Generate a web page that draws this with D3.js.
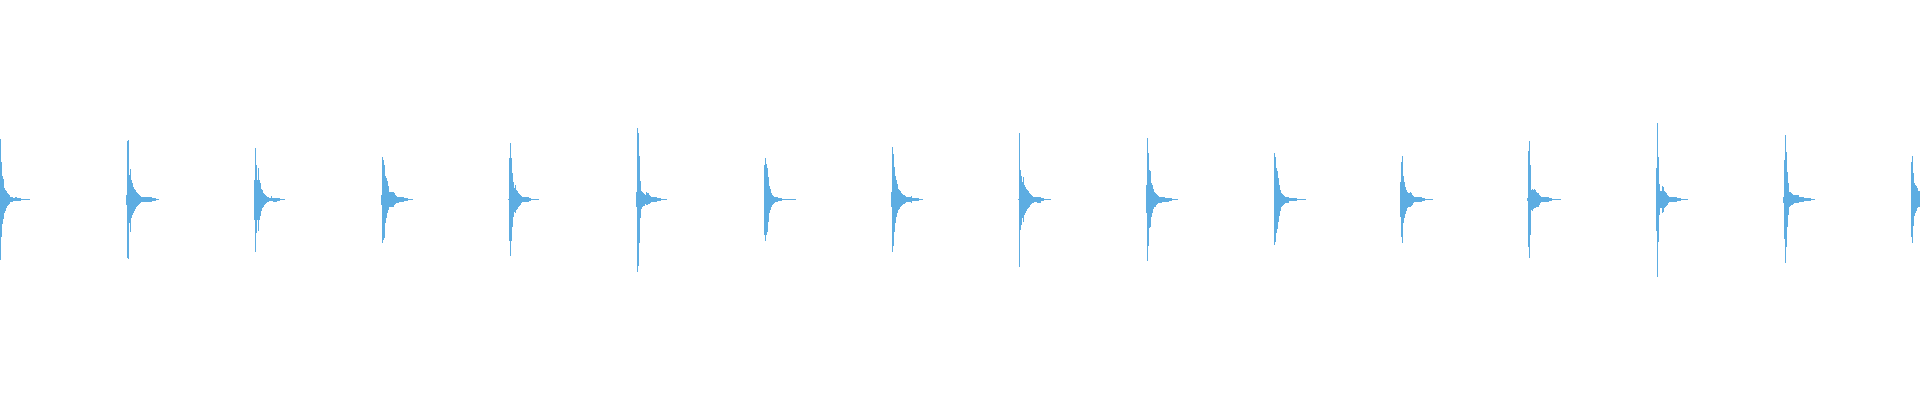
<!DOCTYPE html>
<html>
<head>
<meta charset="utf-8">
<script src="https://cdn.jsdelivr.net/npm/d3@7"></script>
<style>
  html, body { margin: 0; padding: 0; background: #ffffff; overflow: hidden; }
  svg { display: block; }
</style>
</head>
<body>
<div id="chart"></div>
<script>
// Waveform peaks: one min/max pair per display bin, grouped by beat (transient).
const totalBins = 1920;
const beatStarts = [0, 126, 254, 381, 508, 636, 764, 891, 1018, 1146, 1274, 1400, 1527, 1656, 1783, 1911];

const beat0Max = [0.303,0.189,0.118,0.103,0.059,0.050,0.043,0.034,0.026,0.021,0.014,0.011,0.011,0.008,0.008,0.011,0.011,0.006,0.006,0.006,0.006,0.004,0.004,0.003,0.003,0.003,0.003,0.003,0.003,0.003];
const beat0Min = [-0.303,-0.186,-0.123,-0.099,-0.069,-0.055,-0.043,-0.033,-0.026,-0.023,-0.014,-0.011,-0.011,-0.008,-0.008,-0.009,-0.009,-0.006,-0.006,-0.006,-0.006,-0.004,-0.004,-0.003,-0.003,-0.003,-0.003,-0.003,-0.003,-0.003];

const beat1Max = [0.023,0.294,0.298,0.123,0.155,0.098,0.084,0.064,0.055,0.048,0.039,0.034,0.028,0.023,0.019,0.014,0.014,0.013,0.013,0.013,0.013,0.013,0.011,0.011,0.011,0.011,0.006,0.006,0.006,0.006,0.003,0.003,0.003];
const beat1Min = [-0.028,-0.294,-0.298,-0.119,-0.160,-0.094,-0.078,-0.069,-0.055,-0.046,-0.039,-0.033,-0.026,-0.021,-0.018,-0.014,-0.014,-0.013,-0.013,-0.013,-0.013,-0.013,-0.011,-0.011,-0.011,-0.011,-0.006,-0.006,-0.006,-0.006,-0.003,-0.003,-0.003];

const beat2Max = [0.098,0.259,0.173,0.098,0.156,0.098,0.081,0.055,0.048,0.034,0.028,0.023,0.018,0.014,0.014,0.009,0.009,0.016,0.009,0.009,0.009,0.009,0.009,0.006,0.006,0.006,0.003,0.003,0.003,0.003,0.003];
const beat2Min = [-0.103,-0.261,-0.169,-0.103,-0.156,-0.103,-0.081,-0.055,-0.044,-0.036,-0.026,-0.023,-0.019,-0.014,-0.014,-0.009,-0.009,-0.009,-0.009,-0.011,-0.011,-0.011,-0.011,-0.006,-0.006,-0.006,-0.003,-0.003,-0.003,-0.003,-0.003];

const beat3Max = [0.023,0.214,0.198,0.173,0.118,0.106,0.094,0.068,0.039,0.039,0.039,0.039,0.039,0.031,0.024,0.019,0.014,0.014,0.011,0.011,0.011,0.011,0.014,0.006,0.006,0.006,0.006,0.003,0.003,0.003,0.003,0.003];
const beat3Min = [-0.028,-0.219,-0.203,-0.194,-0.119,-0.094,-0.069,-0.053,-0.039,-0.039,-0.039,-0.039,-0.039,-0.028,-0.023,-0.019,-0.016,-0.016,-0.013,-0.013,-0.013,-0.013,-0.013,-0.006,-0.006,-0.006,-0.006,-0.003,-0.003,-0.003,-0.003,-0.003];

const beat4Max = [0.004,0.206,0.284,0.206,0.131,0.089,0.056,0.073,0.048,0.043,0.034,0.028,0.021,0.016,0.011,0.011,0.011,0.011,0.011,0.011,0.011,0.006,0.006,0.003,0.003,0.003,0.003,0.003,0.003,0.003,0.003];
const beat4Min = [-0.004,-0.208,-0.283,-0.208,-0.136,-0.086,-0.061,-0.069,-0.053,-0.046,-0.039,-0.033,-0.026,-0.019,-0.013,-0.013,-0.013,-0.013,-0.013,-0.013,-0.013,-0.006,-0.006,-0.003,-0.003,-0.003,-0.003,-0.003,-0.003,-0.003,-0.003];

const beat5Max = [0.039,0.358,0.334,0.218,0.093,0.044,0.039,0.034,0.028,0.023,0.036,0.031,0.033,0.023,0.018,0.011,0.011,0.011,0.011,0.011,0.011,0.009,0.009,0.009,0.009,0.004,0.004,0.004,0.003,0.003,0.003];
const beat5Min = [-0.039,-0.361,-0.331,-0.216,-0.091,-0.046,-0.036,-0.033,-0.033,-0.023,-0.028,-0.029,-0.024,-0.023,-0.019,-0.011,-0.011,-0.011,-0.011,-0.011,-0.011,-0.009,-0.009,-0.009,-0.009,-0.004,-0.004,-0.004,-0.003,-0.003,-0.003];

const beat6Max = [0.173,0.208,0.178,0.156,0.111,0.068,0.051,0.034,0.023,0.019,0.011,0.011,0.011,0.011,0.008,0.008,0.008,0.008,0.004,0.004,0.004,0.004,0.004,0.003,0.003,0.003,0.003,0.003,0.003,0.003,0.003,0.003];
const beat6Min = [-0.178,-0.206,-0.178,-0.161,-0.111,-0.069,-0.053,-0.039,-0.029,-0.023,-0.016,-0.011,-0.011,-0.011,-0.008,-0.008,-0.008,-0.008,-0.004,-0.004,-0.004,-0.004,-0.004,-0.003,-0.003,-0.003,-0.003,-0.003,-0.003,-0.003,-0.003,-0.003];

const beat7Max = [0.039,0.264,0.228,0.164,0.119,0.098,0.078,0.054,0.048,0.041,0.034,0.029,0.024,0.021,0.018,0.014,0.011,0.011,0.011,0.011,0.018,0.008,0.008,0.008,0.006,0.006,0.006,0.006,0.003,0.003,0.003,0.003];
const beat7Min = [-0.039,-0.261,-0.233,-0.161,-0.116,-0.086,-0.069,-0.053,-0.046,-0.039,-0.034,-0.029,-0.023,-0.021,-0.018,-0.013,-0.011,-0.011,-0.011,-0.011,-0.016,-0.008,-0.008,-0.008,-0.006,-0.006,-0.006,-0.006,-0.003,-0.003,-0.003,-0.003];

const beat8Max = [0.004,0.334,0.148,0.118,0.089,0.114,0.073,0.064,0.054,0.048,0.041,0.034,0.028,0.021,0.018,0.014,0.011,0.011,0.011,0.011,0.011,0.011,0.011,0.006,0.006,0.006,0.003,0.003,0.003,0.003,0.003,0.003,0.003];
const beat8Min = [-0.003,-0.336,-0.153,-0.128,-0.094,-0.111,-0.078,-0.069,-0.058,-0.049,-0.043,-0.036,-0.029,-0.023,-0.019,-0.016,-0.013,-0.013,-0.013,-0.016,-0.016,-0.016,-0.016,-0.006,-0.006,-0.006,-0.003,-0.003,-0.003,-0.003,-0.003,-0.003,-0.003];

const beat9Max = [0.073,0.308,0.234,0.148,0.144,0.084,0.073,0.051,0.038,0.031,0.026,0.021,0.018,0.014,0.014,0.014,0.011,0.011,0.011,0.009,0.009,0.009,0.009,0.006,0.006,0.006,0.003,0.003,0.003,0.003,0.003,0.003];
const beat9Min = [-0.069,-0.306,-0.233,-0.144,-0.139,-0.086,-0.069,-0.049,-0.039,-0.036,-0.029,-0.023,-0.019,-0.016,-0.016,-0.016,-0.013,-0.013,-0.013,-0.011,-0.011,-0.011,-0.011,-0.006,-0.006,-0.006,-0.003,-0.003,-0.003,-0.003,-0.003,-0.003];

const beat10Max = [0.231,0.214,0.159,0.143,0.106,0.073,0.048,0.034,0.028,0.023,0.019,0.014,0.011,0.011,0.011,0.008,0.008,0.008,0.008,0.006,0.006,0.006,0.006,0.003,0.003,0.003,0.003,0.003,0.003,0.003,0.003,0.003];
const beat10Min = [-0.228,-0.211,-0.169,-0.149,-0.111,-0.083,-0.056,-0.039,-0.033,-0.026,-0.023,-0.019,-0.016,-0.016,-0.016,-0.008,-0.008,-0.008,-0.008,-0.006,-0.006,-0.006,-0.006,-0.003,-0.003,-0.003,-0.003,-0.003,-0.003,-0.003,-0.003,-0.003];

const beat11Max = [0.089,0.189,0.219,0.118,0.089,0.064,0.048,0.039,0.031,0.034,0.038,0.031,0.024,0.018,0.011,0.011,0.011,0.011,0.014,0.014,0.014,0.014,0.008,0.008,0.008,0.003,0.003,0.003,0.003,0.003,0.003,0.003,0.003];
const beat11Min = [-0.086,-0.186,-0.216,-0.119,-0.094,-0.073,-0.058,-0.044,-0.036,-0.036,-0.039,-0.033,-0.026,-0.019,-0.013,-0.013,-0.013,-0.013,-0.013,-0.013,-0.013,-0.013,-0.008,-0.008,-0.008,-0.003,-0.003,-0.003,-0.003,-0.003,-0.003,-0.003,-0.003];

const beat12Max = [0.006,0.244,0.293,0.173,0.048,0.051,0.048,0.054,0.048,0.039,0.034,0.031,0.024,0.018,0.011,0.011,0.011,0.011,0.011,0.011,0.011,0.011,0.006,0.006,0.006,0.003,0.003,0.003,0.003,0.003,0.003,0.003,0.003,0.003];
const beat12Min = [-0.006,-0.239,-0.291,-0.178,-0.053,-0.056,-0.049,-0.044,-0.041,-0.039,-0.036,-0.036,-0.028,-0.019,-0.013,-0.013,-0.013,-0.013,-0.013,-0.013,-0.013,-0.013,-0.006,-0.006,-0.006,-0.003,-0.003,-0.003,-0.003,-0.003,-0.003,-0.003,-0.003,-0.003];

const beat13Max = [0.156,0.384,0.211,0.078,0.044,0.044,0.068,0.061,0.044,0.038,0.031,0.024,0.019,0.014,0.011,0.011,0.011,0.011,0.011,0.011,0.011,0.008,0.008,0.008,0.008,0.003,0.003,0.003,0.003,0.003,0.003,0.003];
const beat13Min = [-0.156,-0.386,-0.211,-0.078,-0.044,-0.044,-0.066,-0.061,-0.044,-0.036,-0.033,-0.026,-0.019,-0.013,-0.011,-0.011,-0.011,-0.011,-0.011,-0.011,-0.011,-0.008,-0.008,-0.008,-0.008,-0.003,-0.003,-0.003,-0.003,-0.003,-0.003,-0.003];

const beat14Max = [0.014,0.198,0.323,0.239,0.139,0.081,0.039,0.039,0.031,0.028,0.024,0.023,0.023,0.023,0.023,0.023,0.014,0.011,0.011,0.011,0.011,0.008,0.008,0.008,0.008,0.006,0.006,0.006,0.003,0.003,0.003,0.003];
const beat14Min = [-0.019,-0.199,-0.319,-0.236,-0.136,-0.078,-0.036,-0.033,-0.029,-0.026,-0.023,-0.019,-0.019,-0.019,-0.019,-0.019,-0.014,-0.011,-0.011,-0.011,-0.011,-0.008,-0.008,-0.008,-0.008,-0.006,-0.006,-0.006,-0.003,-0.003,-0.003,-0.003];

const beat15Max = [0.189,0.218,0.134,0.084,0.073,0.068,0.056,0.044,0.044];
const beat15Min = [-0.189,-0.216,-0.133,-0.083,-0.069,-0.058,-0.044,-0.039,-0.039];

const peakMax = [beat0Max, beat1Max, beat2Max, beat3Max, beat4Max, beat5Max, beat6Max, beat7Max,
                 beat8Max, beat9Max, beat10Max, beat11Max, beat12Max, beat13Max, beat14Max, beat15Max];
const peakMin = [beat0Min, beat1Min, beat2Min, beat3Min, beat4Min, beat5Min, beat6Min, beat7Min,
                 beat8Min, beat9Min, beat10Min, beat11Min, beat12Min, beat13Min, beat14Min, beat15Min];

const width = 1920, height = 400;
const waveColor = "#5dade2";

// Build bins table from the arrays
const bins = [];
beatStarts.forEach((start, b) => {
  peakMax[b].forEach((mx, i) => {
    bins.push({ bin: start + i, max: mx, min: peakMin[b][i] });
  });
});

const x = d3.scaleLinear().domain([0, totalBins]).range([0, width]);
const y = d3.scaleLinear().domain([-1, 1]).range([height - 0.5, -0.5]);

const svg = d3.select("#chart").append("svg")
  .attr("width", width)
  .attr("height", height);

svg.append("rect").attr("width", width).attr("height", height).attr("fill", "#ffffff");

svg.append("g")
  .attr("shape-rendering", "crispEdges")
  .selectAll("rect")
  .data(bins)
  .join("rect")
  .attr("x", d => x(d.bin))
  .attr("width", d => x(d.bin + 1) - x(d.bin))
  .attr("y", d => y(d.max))
  .attr("height", d => Math.max(1, y(d.min) - y(d.max)))
  .attr("fill", waveColor);
</script>
</body>
</html>
